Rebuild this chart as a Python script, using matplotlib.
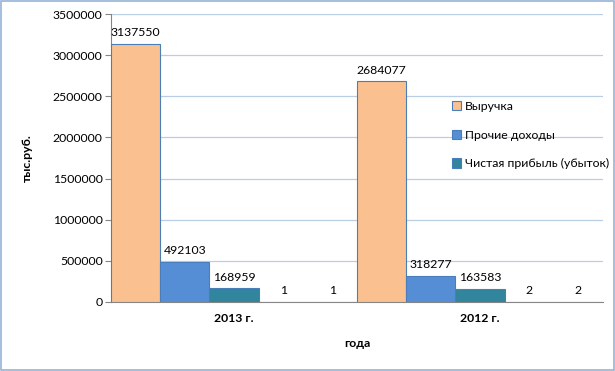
import matplotlib
matplotlib.use('Agg')
import matplotlib.pyplot as plt
import matplotlib.patches as mpatches
import numpy as np

plt.rcParams['font.family'] = ['Lato', 'DejaVu Sans']

# data
years = ['2013 г.', '2012 г.']
revenue = [3137550, 2684077]
other_income = [492103, 318277]
net_profit = [168959, 163583]
hidden_a = [1, 2]
hidden_b = [1, 2]
series_names = ['Выручка', 'Прочие доходы', 'Чистая прибыль (убыток)']
yticks = [0, 500000, 1000000, 1500000, 2000000, 2500000, 3000000, 3500000]

C_PEACH = '#FAC090'
C_BLUE = '#558ED5'
C_TEAL = '#31859C'
C_EDGE = '#4A7EBB'
C_GRID = '#B9CDE5'
C_AXIS = '#868686'


def main():
    fig = plt.figure(figsize=(6.15, 3.71), dpi=100)
    ax = fig.add_axes([0.1805, 0.186, 0.80, 0.776])

    x = np.arange(len(years))
    w = 0.2
    series = [revenue, other_income, net_profit, hidden_a, hidden_b]
    faces = [C_PEACH, C_BLUE, C_TEAL, 'none', 'none']
    edges = [C_EDGE, C_EDGE, C_EDGE, 'none', 'none']
    labels = series_names + ['_h1', '_h2']
    for i, (vals, fc, ec, lb) in enumerate(zip(series, faces, edges, labels)):
        pos = x - 0.5 + w * (i + 0.5)
        bars = ax.bar(pos, vals, width=w, color=fc, edgecolor=ec,
                      linewidth=0.8, label=lb, zorder=3)
        for b, v in zip(bars, vals):
            ax.annotate(str(v), (b.get_x() + b.get_width() / 2, b.get_height()),
                        xytext=(0, 4), textcoords='offset points',
                        ha='center', va='bottom', fontsize=8.8, color='black')

    ax.set_xlim(-0.5, 1.5)
    ax.set_ylim(0, 3500000)
    ax.set_yticks(yticks)
    ax.set_yticklabels([str(t) for t in yticks], fontsize=8.8)
    ax.set_xticks(x)
    ax.set_xticklabels(years, fontsize=8.8, fontweight='bold')
    ax.tick_params(axis='x', length=0, pad=8)
    ax.tick_params(axis='y', length=4, color=C_AXIS, pad=2)
    ax.grid(axis='y', color=C_GRID, linewidth=0.9, zorder=0)
    ax.set_axisbelow(True)
    for s in ['top', 'right']:
        ax.spines[s].set_visible(False)
    ax.spines['left'].set_color(C_AXIS)
    ax.spines['bottom'].set_color(C_AXIS)

    ax.set_xlabel('года', fontsize=8.8, fontweight='bold', labelpad=10)
    ax.set_ylabel('тыс.руб.', fontsize=8.8, fontweight='bold', labelpad=14)

    ax.legend(loc='upper left', bbox_to_anchor=(0.68, 0.72), frameon=False,
              fontsize=8.8, handlelength=0.8, handleheight=0.8,
              handletextpad=0.3, labelspacing=1.45, borderpad=0)

    fig.patches.append(mpatches.Rectangle((0.001, 0.002), 0.997, 0.995,
                                          transform=fig.transFigure, fill=False,
                                          edgecolor='#95B3D7', linewidth=1.2))

    fig.savefig('out.png', dpi=100)
    plt.close(fig)


if __name__ == "__main__":
    main()
